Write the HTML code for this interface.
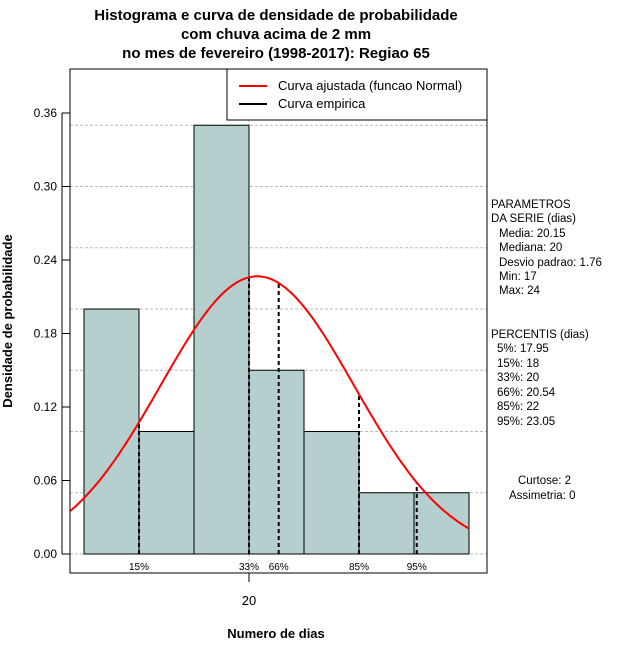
<!DOCTYPE html>
<html><head><meta charset="utf-8"><style>
body{margin:0;background:#fff}
svg{display:block;font-family:"Liberation Sans",sans-serif}
</style></head><body>
<svg id="chart" width="640" height="660" viewBox="0 0 640 660">
<g font-weight="bold" font-size="15" text-anchor="middle">
<text x="276" y="20">Histograma e curva de densidade de probabilidade</text>
<text x="276" y="39">com chuva acima de 2 mm</text>
<text x="276" y="58">no mes de fevereiro (1998-2017): Regiao 65</text>
</g>
<g id="grid"></g>
<g id="bars"></g>
<g id="pct"></g>
<path id="curve" fill="none" stroke="#ff0000" stroke-width="2"/>
<rect x="70" y="69" width="417" height="504" fill="none" stroke="#000"/>
<g id="yaxis" font-size="12"></g>
<g id="xaxis" font-size="12"></g>
<text x="276" y="638" text-anchor="middle" font-weight="bold" font-size="13">Numero de dias</text>
<text transform="translate(12,321) rotate(-90)" text-anchor="middle" font-weight="bold" font-size="13">Densidade de probabilidade</text>
<g>
<rect x="227" y="69" width="260" height="51" fill="#fff" stroke="#000"/>
<line x1="239" y1="86" x2="267" y2="86" stroke="#ff0000" stroke-width="2"/>
<text x="278" y="90" font-size="13">Curva ajustada (funcao Normal)</text>
<line x1="239" y1="104" x2="267" y2="104" stroke="#000" stroke-width="2"/>
<text x="278" y="108" font-size="13">Curva empirica</text>
</g>
<g font-size="11.5">
<text x="491" y="208">PARAMETROS</text>
<text x="491" y="222">DA SERIE (dias)</text>
<text x="499" y="237">Media: 20.15</text>
<text x="499" y="251">Mediana: 20</text>
<text x="499" y="266">Desvio padrao: 1.76</text>
<text x="499" y="280">Min: 17</text>
<text x="499" y="294">Max: 24</text>
<text x="491" y="338">PERCENTIS (dias)</text>
<text x="497" y="352">5%: 17.95</text>
<text x="497" y="367">15%: 18</text>
<text x="497" y="381">33%: 20</text>
<text x="497" y="396">66%: 20.54</text>
<text x="497" y="410">85%: 22</text>
<text x="497" y="425">95%: 23.05</text>
<text x="518" y="484">Curtose: 2</text>
<text x="509" y="499">Assimetria: 0</text>
</g>
</svg>
<script>
const binStarts=[17,18,19,20,21,22,23];
const densities=[0.20,0.10,0.35,0.15,0.10,0.05,0.05];
const yTicks=[0.00,0.06,0.12,0.18,0.24,0.30,0.36];
const yTickLabels=["0.00","0.06","0.12","0.18","0.24","0.30","0.36"];
const gridVals=[0,0.05,0.10,0.15,0.20,0.25,0.30,0.35];
const pctLabels=["15%","33%","66%","85%","95%"];
const pctValues=[18,20,20.54,22,23.05];
const xTicks=[20];
const meanVal=20.15, sdVal=1.76;
const NS="http://www.w3.org/2000/svg";
const X=v=>84+(v-17)*55;
const Y=d=>554-d*1225;
function mk(tag,attrs,parent){const e=document.createElementNS(NS,tag);for(const k in attrs)e.setAttribute(k,attrs[k]);parent.appendChild(e);return e;}
const dens=v=>Math.exp(-0.5*((v-meanVal)/sdVal)**2)/(sdVal*Math.sqrt(2*Math.PI));
const grid=document.getElementById('grid');
gridVals.forEach(g=>{const l=mk('line',{x1:70,x2:487,y1:Y(g),y2:Y(g),stroke:'#bbb','stroke-dasharray':'3,2'},grid);

});
xTicks.forEach(t=>{const l=mk('line',{x1:X(t),x2:X(t),y1:69,y2:573,stroke:'#bbb','stroke-dasharray':'3,2'},grid);

});
const bars=document.getElementById('bars');
binStarts.forEach((b,i)=>{const r=mk('rect',{x:X(b),y:Y(densities[i]),width:X(b+1)-X(b),height:Y(0)-Y(densities[i]),fill:'#b5cece',stroke:'#000'},bars);

});
const pct=document.getElementById('pct');
pctValues.forEach((p,i)=>{const l=mk('line',{x1:X(p),x2:X(p),y1:Y(0),y2:Y(dens(p)),stroke:'#000','stroke-width':2,'stroke-dasharray':'4,3'},pct);


const t=mk('text',{x:X(p),y:570,'font-size':10,'text-anchor':'middle'},pct);t.textContent=pctLabels[i];

});
let d='';for(let v=16.75;v<=24.0001;v+=0.05){d+=(d?'L':'M')+X(v).toFixed(1)+','+Y(dens(v)).toFixed(1);}
document.getElementById('curve').setAttribute('d',d);
const ya=document.getElementById('yaxis');
mk('line',{x1:62,x2:62,y1:Y(0),y2:Y(0.36),stroke:'#000'},ya);
yTicks.forEach((t,i)=>{mk('line',{x1:62,x2:70,y1:Y(t),y2:Y(t),stroke:'#000'},ya);
const tx=mk('text',{x:57,y:Y(t)+4,'text-anchor':'end'},ya);tx.textContent=yTickLabels[i];

});
const xa=document.getElementById('xaxis');
xTicks.forEach(t=>{mk('line',{x1:X(t),x2:X(t),y1:573,y2:582,stroke:'#000'},xa);
const tx=mk('text',{x:X(t),y:605,'text-anchor':'middle','font-size':13},xa);tx.textContent=String(t);

});
</script>
</body></html>
